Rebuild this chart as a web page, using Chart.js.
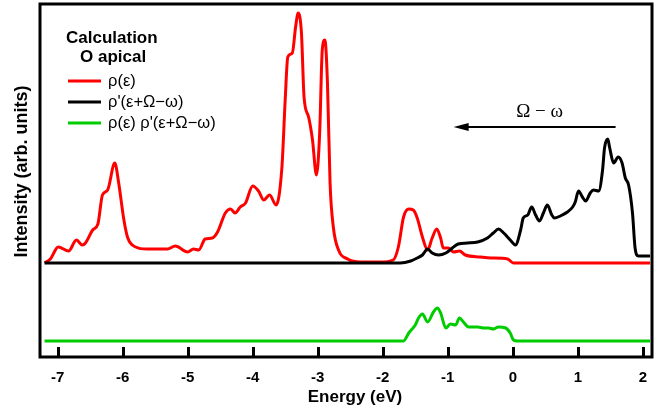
<!DOCTYPE html>
<html>
<head>
<meta charset="utf-8">
<script src="https://cdn.jsdelivr.net/npm/chart.js@4"></script>
<style>
  html, body { margin: 0; padding: 0; background: #fff; }
  #wrap { width: 668px; height: 409px; }
</style>
</head>
<body>
<div id="wrap"><canvas id="myChart"></canvas></div>
<script>
// ------------------------------------------- data -------------------------------------------
// rho(e) : energy (eV) and intensity above its baseline
const rhoEnergy = [
    -7.20, -7.11, -6.99, -6.83, -6.71, -6.62, -6.57, -6.46, -6.38, -6.31, -6.23, -6.12, -6.06, -5.98,
    -5.92, -5.80, -5.62, -5.31, -5.19, -5.00, -4.91, -4.83, -4.73, -4.62, -4.54, -4.42, -4.34, -4.27,
    -4.19, -4.11, -4.00, -3.91, -3.83, -3.74, -3.64, -3.55, -3.50, -3.46, -3.39, -3.34, -3.30, -3.25,
    -3.21, -3.14, -3.08, -3.02, -2.97, -2.93, -2.89, -2.85, -2.81, -2.76, -2.68, -2.54, -2.34, -2.04,
    -1.84, -1.76, -1.68, -1.60, -1.53, -1.47, -1.39, -1.31, -1.24, -1.17, -1.11, -1.07, -0.99, -0.91,
    -0.82, -0.73, -0.50, -0.34, -0.08, 0.01, 2.11
];
const rho = [
    0.00, 0.04, 0.16, 0.12, 0.23, 0.18, 0.20, 0.33, 0.39, 0.68, 0.73, 1.00, 0.80, 0.43,
    0.25, 0.16, 0.14, 0.14, 0.17, 0.11, 0.14, 0.13, 0.24, 0.25, 0.31, 0.50, 0.54, 0.50,
    0.56, 0.60, 0.77, 0.72, 0.63, 0.68, 0.58, 0.96, 1.63, 2.06, 2.10, 2.36, 2.50, 2.30,
    1.66, 1.46, 1.23, 0.88, 1.30, 2.13, 2.23, 1.80, 0.80, 0.36, 0.13, 0.04, 0.01, 0.01,
    0.03, 0.16, 0.46, 0.54, 0.53, 0.45, 0.26, 0.13, 0.25, 0.34, 0.25, 0.15, 0.15, 0.11,
    0.12, 0.08, 0.06, 0.05, 0.04, 0.00, 0.00
];

// rho'(e+Omega-omega)
const rhoShiftEnergy = [
    -7.20, -1.73, -1.57, -1.47, -1.39, -1.31, -1.24, -1.14, -1.03, -0.93, -0.84, -0.70, -0.54, -0.39,
    -0.30, -0.22, -0.14, -0.04, 0.04, 0.12, 0.16, 0.23, 0.29, 0.35, 0.41, 0.47, 0.53, 0.60, 0.64,
    0.73, 0.84, 0.92, 0.96, 1.01, 1.07, 1.12, 1.19, 1.24, 1.32, 1.38, 1.41, 1.46, 1.49, 1.55, 1.62,
    1.68, 1.73, 1.78, 1.84, 1.88, 1.93, 2.01, 2.11
];
const rhoShift = [
    0.00, 0.00, 0.02, 0.05, 0.08, 0.14, 0.10, 0.08, 0.10, 0.15, 0.19, 0.20, 0.21, 0.25,
    0.30, 0.34, 0.30, 0.23, 0.18, 0.33, 0.45, 0.48, 0.56, 0.48, 0.42, 0.50, 0.58, 0.48, 0.45,
    0.47, 0.51, 0.56, 0.61, 0.72, 0.66, 0.62, 0.70, 0.73, 0.72, 0.93, 1.15, 1.24, 1.15, 1.00, 1.06,
    1.00, 0.85, 0.78, 0.50, 0.15, 0.07, 0.07, 0.07
];

// product rho(e) rho'(e+Omega-omega)
const prodEnergy = [
    -7.20, -1.68, -1.60, -1.50, -1.45, -1.39, -1.31, -1.22, -1.16, -1.11, -1.03, -0.96, -0.88, -0.82,
    -0.76, -0.68, -0.54, -0.45, -0.37, -0.30, -0.22, -0.11, -0.04, 0.01, 0.07, 2.11
];
const prod = [
    0.00, 0.00, 0.08, 0.16, 0.23, 0.27, 0.19, 0.29, 0.33, 0.28, 0.13, 0.17, 0.16, 0.23,
    0.19, 0.14, 0.14, 0.13, 0.13, 0.12, 0.14, 0.13, 0.08, 0.01, 0.00, 0.00
];

// vertical offsets of the curves
const rhoBase = 0.94;
const prodBase = 0.16;

const seriesLabels = ["\u03c1(\u03b5)", "\u03c1'(\u03b5+\u03a9\u2212\u03c9)", "\u03c1(\u03b5) \u03c1'(\u03b5+\u03a9\u2212\u03c9)"];
const legendTitle = ["Calculation", "O apical"];
const xTicks = [-7, -6, -5, -4, -3, -2, -1, 0, 1, 2];
const xTitle = "Energy (eV)";
const yTitle = "Intensity (arb. units)";

// arrow annotation (eV, arb. units)
const arrowFrom = 1.58;
const arrowTo = -0.91;
const arrowLevel = 2.30;
const arrowText = "\u03a9 \u2212 \u03c9";

const toPoints = (xs, ys, base) => xs.map((x, i) => ({ x: x, y: ys[i] + base }));

// ------------------------------------------- plugin: frame, inward ticks, titles, legend, arrow -------------------------------------------
const decorations = {
    id: "decorations",
    afterDraw(chart) {
        const ctx = chart.ctx;
        const area = chart.chartArea;
        const xs = chart.scales.x;
        const ys = chart.scales.y;
        ctx.save();

        // inward tick marks
        ctx.strokeStyle = "#000";
        ctx.lineWidth = 3;
        xTicks.forEach((t) => {
            const px = Math.round(xs.getPixelForValue(t)) + 0.5;
            ctx.beginPath();
            ctx.moveTo(px, area.bottom);
            ctx.lineTo(px, area.bottom - 10);
            ctx.stroke();
        });

        // frame
        ctx.lineWidth = 3;
        ctx.strokeRect(area.left, area.top, area.right - area.left, area.bottom - area.top);

        // axis titles
        ctx.fillStyle = "#000";
        ctx.font = "bold 17px 'Liberation Sans', Arial, sans-serif";
        ctx.textAlign = "center";
        ctx.textBaseline = "middle";
        ctx.fillText(xTitle, (area.left + area.right) / 2 + 9, area.bottom + 40);
        ctx.save();
        ctx.translate(area.left - 18, (area.top + area.bottom) / 2 - 9);
        ctx.rotate(-Math.PI / 2);
        ctx.font = "bold 18px 'Liberation Sans', Arial, sans-serif";
        ctx.fillText(yTitle, 0, 0);
        ctx.restore();

        // legend
        const lx = area.left;
        ctx.textAlign = "left";
        ctx.textBaseline = "middle";
        ctx.font = "bold 17px 'Liberation Sans', Arial, sans-serif";
        ctx.fillText(legendTitle[0], lx + 26, area.top + 34);
        ctx.fillText(legendTitle[1], lx + 40, area.top + 53);
        ctx.font = "16.5px 'Liberation Sans', Arial, sans-serif";
        chart.data.datasets.forEach((ds, i) => {
            const y = area.top + 77 + i * 21;
            ctx.strokeStyle = ds.borderColor;
            ctx.lineWidth = 3;
            ctx.beginPath();
            ctx.moveTo(lx + 28, y);
            ctx.lineTo(lx + 61, y);
            ctx.stroke();
            ctx.fillStyle = "#000";
            ctx.fillText(ds.label, lx + 68, y);
        });

        // arrow
        const ax1 = xs.getPixelForValue(arrowFrom);
        const ax2 = xs.getPixelForValue(arrowTo);
        const ay = ys.getPixelForValue(arrowLevel);
        ctx.strokeStyle = "#000";
        ctx.lineWidth = 2;
        ctx.beginPath();
        ctx.moveTo(ax1, ay);
        ctx.lineTo(ax2 + 10, ay);
        ctx.stroke();
        ctx.beginPath();
        ctx.moveTo(ax2, ay);
        ctx.lineTo(ax2 + 15, ay - 4);
        ctx.lineTo(ax2 + 15, ay + 4);
        ctx.closePath();
        ctx.fill();
        ctx.font = "19px 'Liberation Serif', 'Times New Roman', serif";
        ctx.textAlign = "center";
        ctx.textBaseline = "alphabetic";
        ctx.fillText(arrowText, (ax1 + ax2) / 2 + 5, ay - 10);

        ctx.restore();
    },
};

// ------------------------------------------- chart -------------------------------------------
Chart.defaults.font.family = "'Liberation Sans', Arial, sans-serif";
Chart.defaults.color = "black";

const data = {
    datasets: [
        {
            label: seriesLabels[0],
            data: toPoints(rhoEnergy, rho, rhoBase),
            borderColor: "#ff0000",
            order: 2,
        },
        {
            label: seriesLabels[1],
            data: toPoints(rhoShiftEnergy, rhoShift, rhoBase),
            borderColor: "#000000",
            order: 1,
        },
        {
            label: seriesLabels[2],
            data: toPoints(prodEnergy, prod, prodBase),
            borderColor: "#00cc00",
            order: 3,
        },
    ],
};

const config = {
    type: "line",
    data: data,
    options: {
        responsive: true,
        maintainAspectRatio: false,
        animation: false,
        layout: { padding: { top: 4, right: 16, left: 0, bottom: 0 } },
        elements: {
            line: { borderWidth: 3, cubicInterpolationMode: "monotone", fill: false },
            point: { radius: 0 },
        },
        scales: {
            x: {
                type: "linear",
                min: -7.27,
                max: 2.14,
                afterFit: (scale) => { scale.height = 52; },
                grid: { display: false, drawTicks: false },
                border: { display: false },
                ticks: {
                    stepSize: 1,
                    includeBounds: false,
                    padding: 12,
                    font: { size: 15, weight: "bold" },
                    maxRotation: 0,
                },
            },
            y: {
                min: 0,
                max: 3.53,
                afterFit: (scale) => { scale.width = 40; },
                grid: { display: false },
                border: { display: false },
                ticks: { display: false },
            },
        },
        plugins: {
            legend: { display: false },
            tooltip: { enabled: false },
        },
    },
    plugins: [decorations],
};

const myChart = new Chart(document.getElementById("myChart").getContext("2d"), config);
</script>
</body>
</html>
